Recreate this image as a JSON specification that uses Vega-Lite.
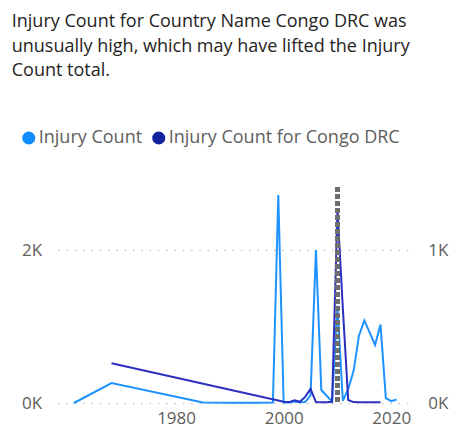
{
  "$schema": "https://vega.github.io/schema/vega-lite/v6.json",
  "autosize": "none",
  "width": 355,
  "height": 216,
  "padding": {"left": 57.75, "top": 187, "right": 40.25, "bottom": 27},
  "background": "white",
  "config": {
    "view": {"stroke": null},
    "font": "Open Sans"
  },
  "title": {
    "text": ["Injury Count for Country Name Congo DRC was", "unusually high, which may have lifted the Injury", "Count total."],
    "anchor": "start",
    "frame": "group",
    "dx": -46,
    "fontSize": 18,
    "lineHeight": 24.5,
    "font": "Open Sans",
    "fontWeight": "normal",
    "color": "#252423",
    "offset": 49
  },
  "data": {
    "values": [
      {"year": 1961, "series": "Injury Count", "value": 0},
      {"year": 1968, "series": "Injury Count", "value": 260},
      {"year": 1985, "series": "Injury Count", "value": 8},
      {"year": 1990, "series": "Injury Count", "value": 3},
      {"year": 1995, "series": "Injury Count", "value": 4},
      {"year": 1998, "series": "Injury Count", "value": 5},
      {"year": 1999, "series": "Injury Count", "value": 2720},
      {"year": 2000, "series": "Injury Count", "value": 6},
      {"year": 2001, "series": "Injury Count", "value": 8},
      {"year": 2002, "series": "Injury Count", "value": 18},
      {"year": 2003, "series": "Injury Count", "value": 10},
      {"year": 2004, "series": "Injury Count", "value": 12},
      {"year": 2005, "series": "Injury Count", "value": 100},
      {"year": 2006, "series": "Injury Count", "value": 2000},
      {"year": 2007, "series": "Injury Count", "value": 170},
      {"year": 2008, "series": "Injury Count", "value": 95},
      {"year": 2009, "series": "Injury Count", "value": 20},
      {"year": 2010, "series": "Injury Count", "value": 1270},
      {"year": 2011, "series": "Injury Count", "value": 30},
      {"year": 2012, "series": "Injury Count", "value": 180},
      {"year": 2013, "series": "Injury Count", "value": 420},
      {"year": 2014, "series": "Injury Count", "value": 880},
      {"year": 2015, "series": "Injury Count", "value": 1080},
      {"year": 2016, "series": "Injury Count", "value": 920},
      {"year": 2017, "series": "Injury Count", "value": 760},
      {"year": 2018, "series": "Injury Count", "value": 1025},
      {"year": 2019, "series": "Injury Count", "value": 65},
      {"year": 2020, "series": "Injury Count", "value": 25},
      {"year": 2021, "series": "Injury Count", "value": 45},
      {"year": 1968, "series": "Injury Count for Congo DRC", "value": 260},
      {"year": 2000, "series": "Injury Count for Congo DRC", "value": 8},
      {"year": 2001, "series": "Injury Count for Congo DRC", "value": 6},
      {"year": 2002, "series": "Injury Count for Congo DRC", "value": 17},
      {"year": 2003, "series": "Injury Count for Congo DRC", "value": 8},
      {"year": 2004, "series": "Injury Count for Congo DRC", "value": 40},
      {"year": 2005, "series": "Injury Count for Congo DRC", "value": 92},
      {"year": 2006, "series": "Injury Count for Congo DRC", "value": 6},
      {"year": 2007, "series": "Injury Count for Congo DRC", "value": 5},
      {"year": 2008, "series": "Injury Count for Congo DRC", "value": 5},
      {"year": 2009, "series": "Injury Count for Congo DRC", "value": 8},
      {"year": 2010, "series": "Injury Count for Congo DRC", "value": 1268},
      {"year": 2011, "series": "Injury Count for Congo DRC", "value": 620},
      {"year": 2012, "series": "Injury Count for Congo DRC", "value": 20},
      {"year": 2013, "series": "Injury Count for Congo DRC", "value": 6},
      {"year": 2014, "series": "Injury Count for Congo DRC", "value": 5},
      {"year": 2015, "series": "Injury Count for Congo DRC", "value": 5},
      {"year": 2016, "series": "Injury Count for Congo DRC", "value": 5},
      {"year": 2017, "series": "Injury Count for Congo DRC", "value": 5},
      {"year": 2018, "series": "Injury Count for Congo DRC", "value": 5}
    ]
  },
  "encoding": {
    "x": {
      "field": "year",
      "type": "quantitative",
      "title": null,
      "scale": {"domain": [1958, 2024], "nice": false, "zero": false},
      "axis": {
        "values": [1980, 2000, 2020],
        "format": "d",
        "domain": false,
        "ticks": false,
        "grid": false,
        "labelFontSize": 17,
        "labelColor": "#605E5C",
        "labelPadding": 7,
        "labelFont": "Open Sans"
      }
    }
  },
  "layer": [
    {
      "mark": {"type": "point", "filled": true, "opacity": 0, "shape": "circle"},
      "encoding": {
        "color": {
          "field": "series",
          "type": "nominal",
          "scale": {
            "domain": ["Injury Count", "Injury Count for Congo DRC"],
            "range": ["#118DFF", "#12239E"]
          },
          "legend": {
            "title": null,
            "orient": "none",
            "direction": "horizontal",
            "legendX": -38,
            "legendY": -58,
            "symbolType": "circle",
            "symbolSize": 170,
            "symbolOpacity": 1,
            "symbolStrokeWidth": 0,
            "labelFontSize": 18,
            "labelFont": "Open Sans",
            "labelColor": "#605E5C",
            "labelOffset": 1,
            "labelLimit": 400,
            "columnPadding": 7,
            "padding": 0
          }
        }
      }
    },
    {
      "transform": [{"filter": "datum.series === 'Injury Count'"}],
      "mark": {"type": "line", "strokeWidth": 2, "color": "#1E93FF"},
      "encoding": {
        "y": {
          "field": "value",
          "type": "quantitative",
          "title": null,
          "scale": {"domain": [0, 2825], "nice": false},
          "axis": {
            "orient": "left",
            "values": [0, 2000],
            "labelExpr": "datum.value / 1000 + 'K'",
            "domain": false,
            "ticks": false,
            "grid": true,
            "gridColor": "#C8C6C4",
            "gridDash": [1.5, 6.8],
            "gridWidth": 1.5,
            "labelFontSize": 17,
            "labelColor": "#605E5C",
            "labelPadding": 16,
            "labelFont": "Open Sans"
          }
        }
      }
    },
    {
      "transform": [{"filter": "datum.series === 'Injury Count for Congo DRC'"}],
      "mark": {"type": "line", "strokeWidth": 2, "color": "#2B30BE"},
      "encoding": {
        "y": {
          "field": "value",
          "type": "quantitative",
          "title": null,
          "scale": {"domain": [0, 1412], "nice": false},
          "axis": {
            "orient": "right",
            "values": [0, 1000],
            "labelExpr": "datum.value / 1000 + 'K'",
            "domain": false,
            "ticks": false,
            "grid": false,
            "labelFontSize": 17,
            "labelColor": "#605E5C",
            "labelPadding": 15,
            "labelFont": "Open Sans"
          }
        }
      }
    },
    {
      "mark": {"type": "rule", "color": "#6E6E6E", "strokeWidth": 3.5, "strokeDash": [5, 2], "opacity": 0.85},
      "encoding": {"x": {"datum": 2010}}
    }
  ],
  "resolve": {"scale": {"y": "independent"}, "axis": {"y": "independent"}}
}
